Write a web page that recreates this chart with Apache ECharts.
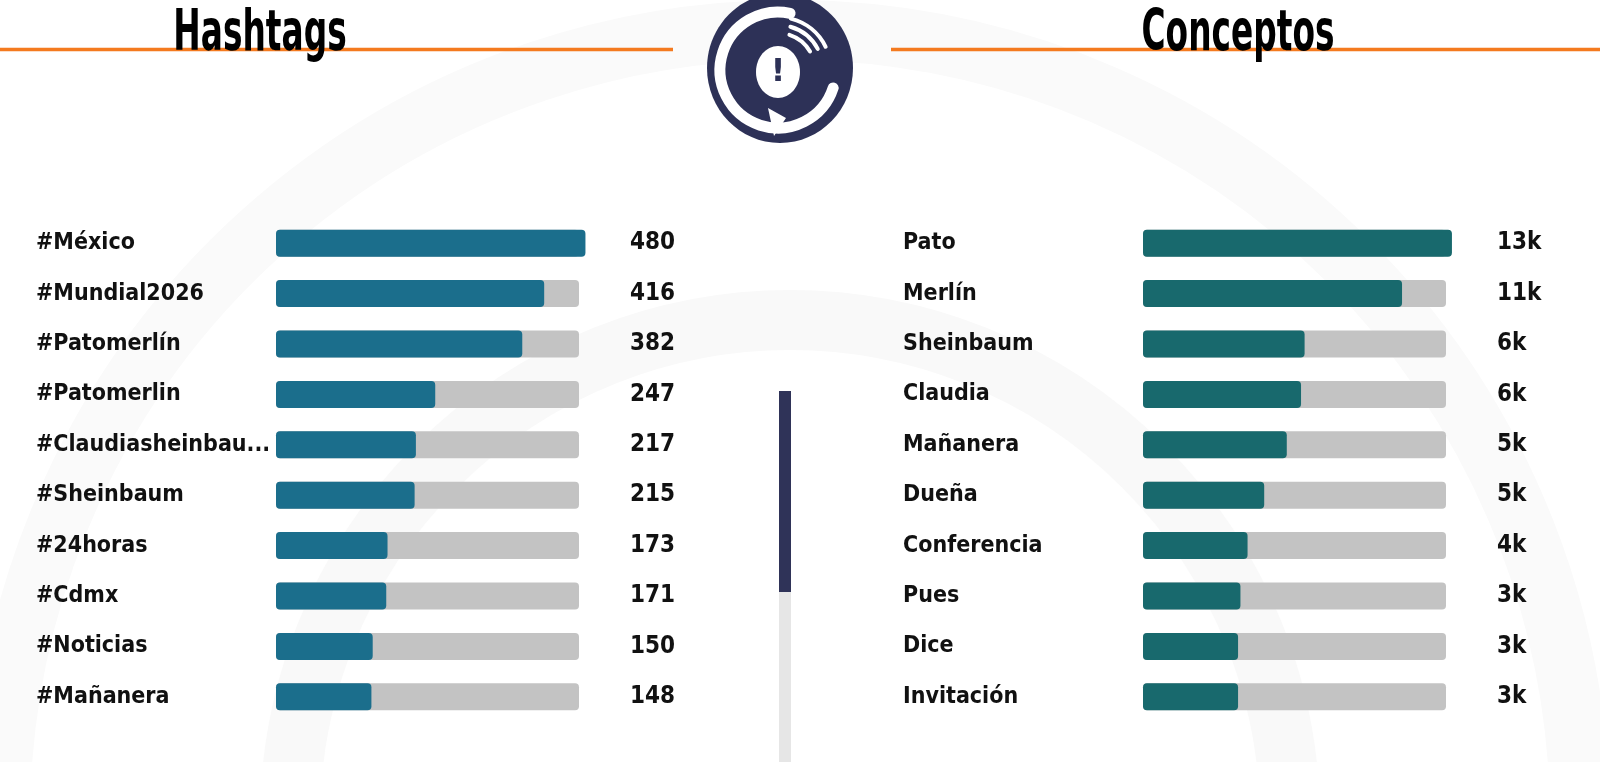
<!DOCTYPE html>
<html>
<head>
<meta charset="utf-8">
<title>Hashtags y Conceptos</title>
<script src="https://cdn.jsdelivr.net/npm/echarts@6/dist/echarts.min.js"></script>
<style>
  html, body { margin: 0; padding: 0; background: #ffffff; }
  #chart { width: 1600px; height: 762px; }
</style>
</head>
<body>
<div id="chart"></div>
<script>
  const hashtagNames = ["#México", "#Mundial2026", "#Patomerlín", "#Patomerlin", "#Claudiasheinbau...",
    "#Sheinbaum", "#24horas", "#Cdmx", "#Noticias", "#Mañanera"];
  const hashtagValues = [480, 416, 382, 247, 217, 215, 173, 171, 150, 148];
  const hashtagLabels = ["480", "416", "382", "247", "217", "215", "173", "171", "150", "148"];

  const conceptNames = ["Pato", "Merlín", "Sheinbaum", "Claudia", "Mañanera", "Dueña",
    "Conferencia", "Pues", "Dice", "Invitación"];
  const conceptValues = [13000, 10900, 6800, 6650, 6050, 5100, 4400, 4100, 4000, 4000];
  const conceptLabels = ["13k", "11k", "6k", "6k", "5k", "5k", "4k", "3k", "3k", "3k"];

  const FONT = '"Liberation Sans Narrow", "DejaVu Sans Condensed", sans-serif';
  const NAVY = "#2d3157";
  const ORANGE = "#f47a1f";

  function panel(idx, left, names, values, labels, max, color) {
    const grid = { left: left, top: 218, width: 303, height: 504 };
    const yName = {
      gridIndex: idx,
      type: "category",
      inverse: true,
      data: names,
      axisLine: { show: false },
      axisTick: { show: false },
      axisLabel: {
        margin: 240,
        align: "left",
        color: "#111",
        fontFamily: FONT,
        fontWeight: "bold",
        fontSize: 23,
      },
    };
    const yValue = {
      gridIndex: idx,
      type: "category",
      inverse: true,
      position: "right",
      data: labels,
      axisLine: { show: false },
      axisTick: { show: false },
      axisLabel: {
        margin: 51,
        align: "left",
        color: "#111",
        fontFamily: FONT,
        fontWeight: "bold",
        fontSize: 24,
      },
    };
    const xAxis = {
      gridIndex: idx,
      type: "value",
      min: 0,
      max: max,
      show: false,
      splitLine: { show: false },
    };
    const series = {
      type: "bar",
      xAxisIndex: idx,
      yAxisIndex: idx * 2,
      data: values,
      barWidth: 27,
      clip: false,
      silent: true,
      showBackground: true,
      backgroundStyle: { color: "#c3c3c3", borderRadius: 4 },
      itemStyle: { color: color, borderRadius: 4 },
    };
    return { grid, yName, yValue, xAxis, series };
  }

  const left = panel(0, 276, hashtagNames, hashtagValues, hashtagLabels, 470, "#1b6e8c");
  const right = panel(1, 1143, conceptNames, conceptValues, conceptLabels, 12750, "#18696d");

  // the original title face is very condensed, so squeeze it horizontally
  function titleText(text, x) {
    return {
      type: "text",
      x: x,
      y: 35,
      scaleX: 0.64,
      z: 10,
      style: {
        text: text,
        align: "center",
        verticalAlign: "middle",
        fill: "#000",
        font: "bold 57px " + FONT,
      },
    };
  }

  const deg = Math.PI / 180;
  const logoX = 780, logoY = 68;

  const graphic = [
    // faint watermark rings
    { type: "arc", z: 0, shape: { cx: 790, cy: 820, r: 500, startAngle: 180 * deg, endAngle: 360 * deg },
      style: { stroke: "#f9f9f9", lineWidth: 60, fill: null } },
    { type: "arc", z: 0, shape: { cx: 790, cy: 820, r: 790, startAngle: 183 * deg, endAngle: 357 * deg },
      style: { stroke: "#fafafa", lineWidth: 60, fill: null } },
    // title rules
    { type: "line", z: 5, shape: { x1: 0, y1: 49.5, x2: 673, y2: 49.5 }, style: { stroke: ORANGE, lineWidth: 3.5 } },
    { type: "line", z: 5, shape: { x1: 891, y1: 49.5, x2: 1600, y2: 49.5 }, style: { stroke: ORANGE, lineWidth: 3.5 } },
    titleText("Hashtags", 260),
    titleText("Conceptos", 1238),
    // logo
    { type: "ellipse", z: 10, shape: { cx: logoX, cy: logoY, rx: 73, ry: 75 }, style: { fill: NAVY } },
    { type: "arc", z: 11, shape: { cx: logoX - 2, cy: logoY + 2, r: 58, startAngle: 18 * deg, endAngle: 282 * deg, clockwise: true },
      style: { stroke: "#fff", lineWidth: 11, lineCap: "round", fill: null } },
    { type: "polygon", z: 11, shape: { points: [[768, 108], [786, 118], [774, 136]] }, style: { fill: "#fff" } },
    { type: "arc", z: 11, shape: { cx: logoX - 2, cy: logoY + 2, r: 37, startAngle: 288 * deg, endAngle: 330 * deg },
      style: { stroke: "#fff", lineWidth: 4, lineCap: "round", fill: null } },
    { type: "arc", z: 11, shape: { cx: logoX - 2, cy: logoY + 2, r: 45, startAngle: 286 * deg, endAngle: 332 * deg },
      style: { stroke: "#fff", lineWidth: 4, lineCap: "round", fill: null } },
    { type: "arc", z: 11, shape: { cx: logoX - 2, cy: logoY + 2, r: 53, startAngle: 284 * deg, endAngle: 334 * deg },
      style: { stroke: "#fff", lineWidth: 4, lineCap: "round", fill: null } },
    { type: "ellipse", z: 11, shape: { cx: logoX - 2, cy: logoY + 4, rx: 22, ry: 26 }, style: { fill: "#fff" } },
    { type: "text", z: 12, x: logoX - 2, y: logoY + 5,
      style: { text: "!", align: "center", verticalAlign: "middle", fill: NAVY, font: 'bold 32px "DejaVu Sans"' } },
    // divider
    { type: "rect", z: 5, shape: { x: 779, y: 391, width: 12, height: 201 }, style: { fill: "#2f3358" } },
    { type: "rect", z: 5, shape: { x: 779, y: 592, width: 12, height: 170 }, style: { fill: "#e6e6e6" } },
  ];

  const chart = echarts.init(document.getElementById("chart"));
  chart.setOption({
    animation: false,
    backgroundColor: "#ffffff",
    graphic: graphic,
    grid: [left.grid, right.grid],
    xAxis: [left.xAxis, right.xAxis],
    yAxis: [left.yName, left.yValue, right.yName, right.yValue],
    series: [left.series, right.series],
  });
  window.addEventListener("resize", () => chart.resize(), { passive: true });
</script>
</body>
</html>
